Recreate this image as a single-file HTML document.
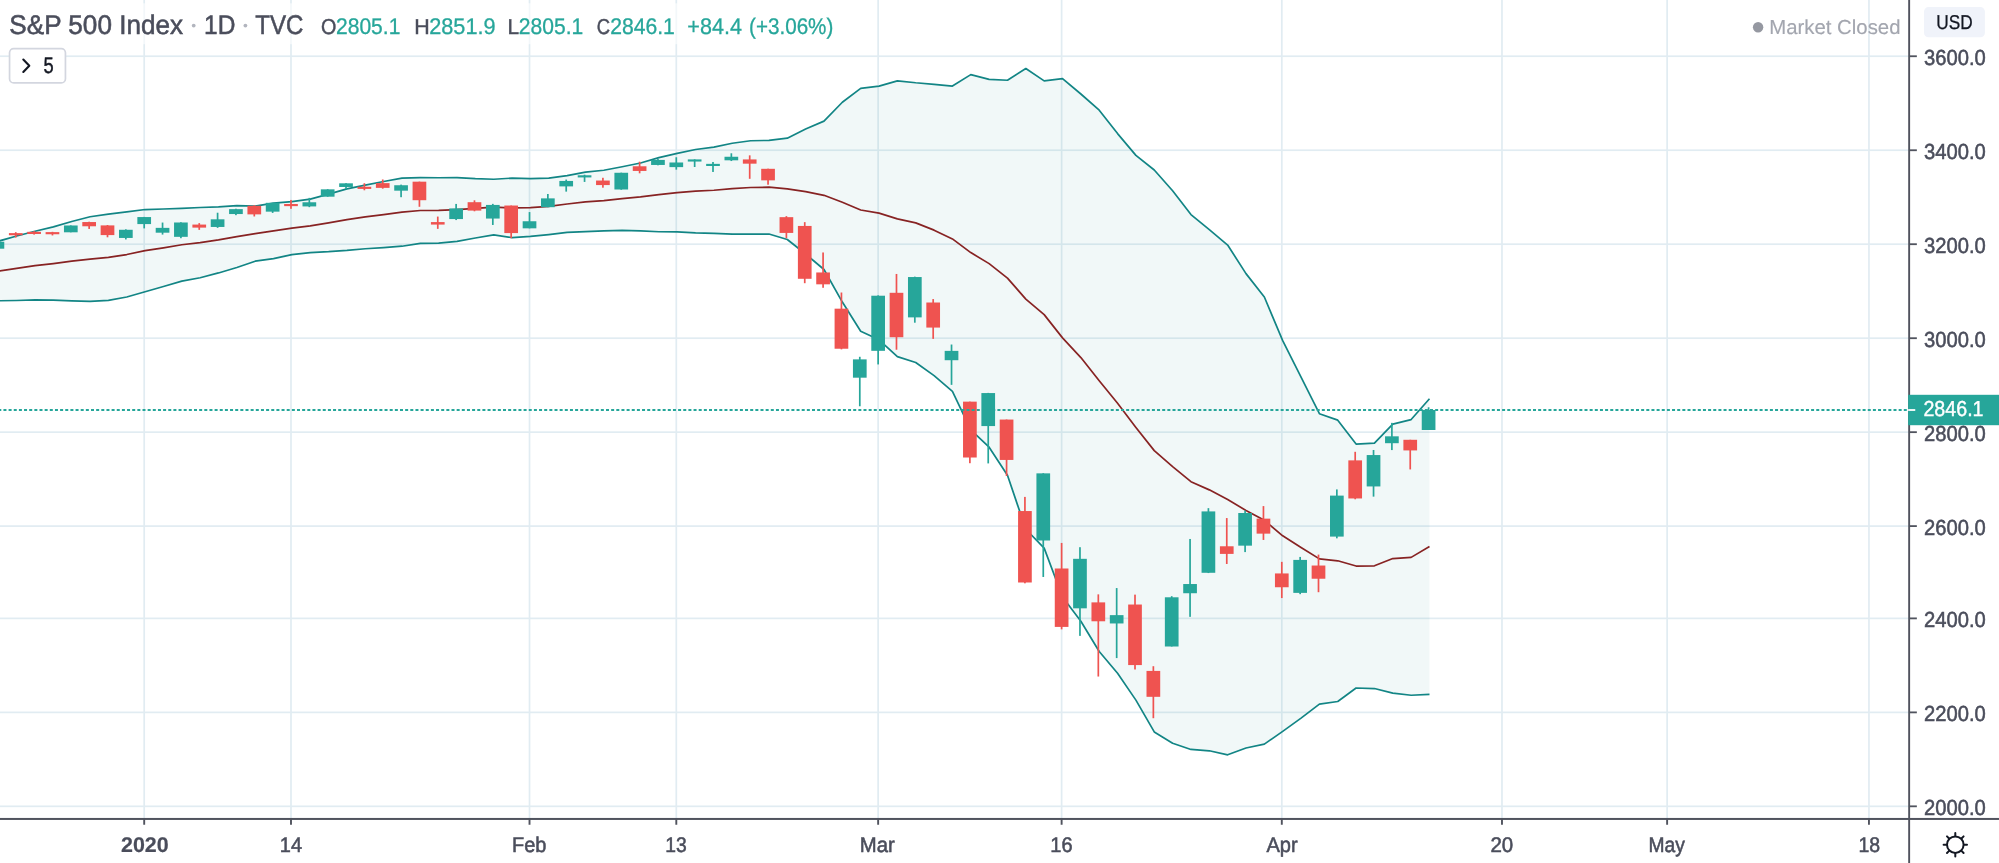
<!DOCTYPE html>
<html><head><meta charset="utf-8"><title>S&amp;P 500 Index</title>
<style>
html,body{margin:0;padding:0;background:#fff;}
body{width:1999px;height:863px;overflow:hidden;position:relative;font-family:"Liberation Sans",sans-serif;}
svg{position:absolute;left:0;top:0;display:block;will-change:transform;}
svg text{font-family:"Liberation Sans",sans-serif;paint-order:stroke;text-rendering:geometricPrecision;}
</style></head><body>
<svg width="1999" height="863" viewBox="0 0 1999 863">
<defs><clipPath id="cp"><rect x="0" y="0" width="1909.15" height="818.95"/></clipPath></defs>
<g clip-path="url(#cp)">
<rect x="143.35" y="0" width="1.7" height="818.95" fill="#e1ecf2"/>
<rect x="290.14" y="0" width="1.7" height="818.95" fill="#e1ecf2"/>
<rect x="528.67" y="0" width="1.7" height="818.95" fill="#e1ecf2"/>
<rect x="675.45" y="0" width="1.7" height="818.95" fill="#e1ecf2"/>
<rect x="877.29" y="0" width="1.7" height="818.95" fill="#e1ecf2"/>
<rect x="1060.77" y="0" width="1.7" height="818.95" fill="#e1ecf2"/>
<rect x="1280.95" y="0" width="1.7" height="818.95" fill="#e1ecf2"/>
<rect x="1501.13" y="0" width="1.7" height="818.95" fill="#e1ecf2"/>
<rect x="1666.27" y="0" width="1.7" height="818.95" fill="#e1ecf2"/>
<rect x="1868.10" y="0" width="1.7" height="818.95" fill="#e1ecf2"/>
<rect x="0" y="55.39" width="1909.15" height="1.7" fill="#e1ecf2"/>
<rect x="0" y="149.39" width="1909.15" height="1.7" fill="#e1ecf2"/>
<rect x="0" y="243.35" width="1909.15" height="1.7" fill="#e1ecf2"/>
<rect x="0" y="337.35" width="1909.15" height="1.7" fill="#e1ecf2"/>
<rect x="0" y="431.31" width="1909.15" height="1.7" fill="#e1ecf2"/>
<rect x="0" y="525.25" width="1909.15" height="1.7" fill="#e1ecf2"/>
<rect x="0" y="617.53" width="1909.15" height="1.7" fill="#e1ecf2"/>
<rect x="0" y="711.53" width="1909.15" height="1.7" fill="#e1ecf2"/>
<rect x="0" y="805.47" width="1909.15" height="1.7" fill="#e1ecf2"/>
<polygon points="-1.69,241.23 16.66,236.00 35.01,231.26 53.36,226.92 71.71,221.48 90.05,216.76 108.40,214.11 126.75,211.93 145.10,209.53 163.45,209.01 181.80,208.34 200.15,207.48 218.49,206.80 236.84,205.62 255.19,206.04 273.54,203.05 291.89,201.71 310.24,199.11 328.58,194.10 346.93,188.85 365.28,185.15 383.63,181.54 401.98,178.17 420.33,177.66 438.67,177.73 457.02,177.70 475.37,178.68 493.72,179.25 512.07,178.11 530.42,178.58 548.76,178.11 567.11,175.66 585.46,172.11 603.81,170.25 622.16,166.75 640.51,163.03 658.86,157.60 677.20,153.43 695.55,149.50 713.90,147.09 732.25,143.26 750.60,140.76 768.95,140.37 787.29,138.18 805.64,129.09 823.99,121.10 842.34,102.25 860.69,88.43 879.04,86.16 897.38,80.82 915.73,82.76 934.08,84.28 952.43,86.05 970.78,74.65 989.13,79.37 1007.47,80.24 1025.82,68.52 1044.17,80.85 1062.52,78.65 1080.87,93.99 1099.22,110.18 1117.57,133.60 1135.91,155.33 1154.26,170.00 1172.61,190.70 1190.96,214.58 1209.31,229.65 1227.66,245.03 1246.00,273.61 1264.35,297.03 1282.70,340.67 1301.05,377.13 1319.40,413.72 1337.75,420.16 1356.09,444.05 1374.44,443.13 1392.79,424.07 1411.14,419.56 1429.49,398.81 1429.49,694.47 1411.14,695.25 1392.79,693.10 1374.44,688.53 1356.09,688.02 1337.75,701.49 1319.40,704.06 1301.05,718.07 1282.70,731.33 1264.35,744.15 1246.00,747.99 1227.66,754.80 1209.31,750.79 1190.96,749.47 1172.61,743.23 1154.26,731.93 1135.91,700.14 1117.57,673.32 1099.22,651.45 1080.87,621.20 1062.52,597.01 1044.17,548.08 1025.82,529.26 1007.47,475.30 989.13,447.19 970.78,429.84 952.43,391.29 934.08,375.58 915.73,362.55 897.38,356.64 879.04,339.84 860.69,331.24 842.34,302.07 823.99,269.50 805.64,254.01 787.29,239.49 768.95,234.03 750.60,234.21 732.25,234.13 713.90,233.37 695.55,232.88 677.20,231.92 658.86,231.73 640.51,230.83 622.16,230.38 603.81,230.96 585.46,231.59 567.11,232.39 548.76,234.53 530.42,236.47 512.07,237.60 493.72,234.94 475.37,237.99 457.02,241.43 438.67,243.10 420.33,243.35 401.98,246.22 383.63,247.63 365.28,248.74 346.93,250.47 328.58,251.72 310.24,252.55 291.89,254.55 273.54,258.59 255.19,261.21 236.84,267.45 218.49,272.94 200.15,277.74 181.80,281.15 163.45,286.52 145.10,291.71 126.75,297.03 108.40,300.33 90.05,301.45 71.71,300.80 53.36,300.03 35.01,299.91 16.66,300.51 -1.69,300.80" fill="#008080" fill-opacity="0.056"/>
<polyline points="-1.69,271.08 16.66,268.32 35.01,265.65 53.36,263.54 71.71,261.20 90.05,259.17 108.40,257.29 126.75,254.54 145.10,250.67 163.45,247.80 181.80,244.77 200.15,242.63 218.49,239.88 236.84,236.54 255.19,233.63 273.54,230.82 291.89,228.13 310.24,225.83 328.58,222.91 346.93,219.66 365.28,216.94 383.63,214.58 401.98,212.20 420.33,210.50 438.67,210.42 457.02,209.56 475.37,208.34 493.72,207.10 512.07,207.86 530.42,207.53 548.76,206.32 567.11,204.03 585.46,201.85 603.81,200.60 622.16,198.57 640.51,196.93 658.86,194.67 677.20,192.68 695.55,191.19 713.90,190.23 732.25,188.70 750.60,187.49 768.95,187.20 787.29,188.83 805.64,191.55 823.99,195.30 842.34,202.23 860.69,209.97 879.04,213.15 897.38,218.92 915.73,222.85 934.08,230.16 952.43,238.93 970.78,252.59 989.13,263.63 1007.47,278.08 1025.82,299.11 1044.17,314.62 1062.52,337.88 1080.87,357.56 1099.22,380.68 1117.57,403.24 1135.91,427.40 1154.26,450.61 1172.61,466.61 1190.96,481.67 1209.31,489.87 1227.66,499.57 1246.00,510.46 1264.35,520.30 1282.70,535.80 1301.05,547.48 1319.40,558.85 1337.75,560.80 1356.09,566.03 1374.44,565.83 1392.79,558.57 1411.14,557.38 1429.49,546.57" fill="none" stroke="#872323" stroke-width="1.7" stroke-linejoin="round"/>
<polyline points="-1.69,241.23 16.66,236.00 35.01,231.26 53.36,226.92 71.71,221.48 90.05,216.76 108.40,214.11 126.75,211.93 145.10,209.53 163.45,209.01 181.80,208.34 200.15,207.48 218.49,206.80 236.84,205.62 255.19,206.04 273.54,203.05 291.89,201.71 310.24,199.11 328.58,194.10 346.93,188.85 365.28,185.15 383.63,181.54 401.98,178.17 420.33,177.66 438.67,177.73 457.02,177.70 475.37,178.68 493.72,179.25 512.07,178.11 530.42,178.58 548.76,178.11 567.11,175.66 585.46,172.11 603.81,170.25 622.16,166.75 640.51,163.03 658.86,157.60 677.20,153.43 695.55,149.50 713.90,147.09 732.25,143.26 750.60,140.76 768.95,140.37 787.29,138.18 805.64,129.09 823.99,121.10 842.34,102.25 860.69,88.43 879.04,86.16 897.38,80.82 915.73,82.76 934.08,84.28 952.43,86.05 970.78,74.65 989.13,79.37 1007.47,80.24 1025.82,68.52 1044.17,80.85 1062.52,78.65 1080.87,93.99 1099.22,110.18 1117.57,133.60 1135.91,155.33 1154.26,170.00 1172.61,190.70 1190.96,214.58 1209.31,229.65 1227.66,245.03 1246.00,273.61 1264.35,297.03 1282.70,340.67 1301.05,377.13 1319.40,413.72 1337.75,420.16 1356.09,444.05 1374.44,443.13 1392.79,424.07 1411.14,419.56 1429.49,398.81" fill="none" stroke="#128585" stroke-width="1.7" stroke-linejoin="round"/>
<polyline points="-1.69,300.80 16.66,300.51 35.01,299.91 53.36,300.03 71.71,300.80 90.05,301.45 108.40,300.33 126.75,297.03 145.10,291.71 163.45,286.52 181.80,281.15 200.15,277.74 218.49,272.94 236.84,267.45 255.19,261.21 273.54,258.59 291.89,254.55 310.24,252.55 328.58,251.72 346.93,250.47 365.28,248.74 383.63,247.63 401.98,246.22 420.33,243.35 438.67,243.10 457.02,241.43 475.37,237.99 493.72,234.94 512.07,237.60 530.42,236.47 548.76,234.53 567.11,232.39 585.46,231.59 603.81,230.96 622.16,230.38 640.51,230.83 658.86,231.73 677.20,231.92 695.55,232.88 713.90,233.37 732.25,234.13 750.60,234.21 768.95,234.03 787.29,239.49 805.64,254.01 823.99,269.50 842.34,302.07 860.69,331.24 879.04,339.84 897.38,356.64 915.73,362.55 934.08,375.58 952.43,391.29 970.78,429.84 989.13,447.19 1007.47,475.30 1025.82,529.26 1044.17,548.08 1062.52,597.01 1080.87,621.20 1099.22,651.45 1117.57,673.32 1135.91,700.14 1154.26,731.93 1172.61,743.23 1190.96,749.47 1209.31,750.79 1227.66,754.80 1246.00,747.99 1264.35,744.15 1282.70,731.33 1301.05,718.07 1319.40,704.06 1337.75,701.49 1356.09,688.02 1374.44,688.53 1392.79,693.10 1411.14,695.25 1429.49,694.47" fill="none" stroke="#128585" stroke-width="1.7" stroke-linejoin="round"/>
<rect x="-3.44" y="241.66" width="1.7" height="7.04" fill="#26a69a"/>
<rect x="-9.44" y="241.72" width="13.7" height="6.98" fill="#26a69a"/>
<rect x="14.91" y="232.18" width="1.7" height="5.37" fill="#ef5350"/>
<rect x="8.91" y="233.12" width="13.7" height="2.15" fill="#ef5350"/>
<rect x="33.26" y="231.18" width="1.7" height="3.43" fill="#ef5350"/>
<rect x="27.26" y="231.83" width="13.7" height="2.15" fill="#ef5350"/>
<rect x="51.61" y="231.82" width="1.7" height="3.63" fill="#ef5350"/>
<rect x="45.61" y="232.11" width="13.7" height="2.15" fill="#ef5350"/>
<rect x="69.96" y="225.40" width="1.7" height="6.90" fill="#26a69a"/>
<rect x="63.96" y="225.48" width="13.7" height="6.82" fill="#26a69a"/>
<rect x="88.30" y="221.71" width="1.7" height="7.22" fill="#ef5350"/>
<rect x="82.30" y="222.04" width="13.7" height="4.24" fill="#ef5350"/>
<rect x="106.65" y="225.01" width="1.7" height="12.29" fill="#ef5350"/>
<rect x="100.65" y="225.40" width="13.7" height="9.69" fill="#ef5350"/>
<rect x="125.00" y="229.33" width="1.7" height="10.10" fill="#26a69a"/>
<rect x="119.00" y="229.77" width="13.7" height="8.18" fill="#26a69a"/>
<rect x="143.35" y="216.91" width="1.7" height="11.48" fill="#26a69a"/>
<rect x="137.35" y="217.05" width="13.7" height="7.04" fill="#26a69a"/>
<rect x="161.70" y="222.55" width="1.7" height="12.04" fill="#26a69a"/>
<rect x="155.70" y="227.86" width="13.7" height="4.84" fill="#26a69a"/>
<rect x="180.05" y="222.23" width="1.7" height="15.98" fill="#26a69a"/>
<rect x="174.05" y="222.49" width="13.7" height="14.35" fill="#26a69a"/>
<rect x="198.40" y="223.13" width="1.7" height="6.72" fill="#ef5350"/>
<rect x="192.40" y="224.57" width="13.7" height="3.05" fill="#ef5350"/>
<rect x="216.74" y="212.72" width="1.7" height="15.14" fill="#26a69a"/>
<rect x="210.74" y="219.31" width="13.7" height="7.65" fill="#26a69a"/>
<rect x="235.09" y="208.72" width="1.7" height="6.45" fill="#26a69a"/>
<rect x="229.09" y="209.13" width="13.7" height="4.92" fill="#26a69a"/>
<rect x="253.44" y="205.23" width="1.7" height="11.25" fill="#ef5350"/>
<rect x="247.44" y="205.79" width="13.7" height="8.59" fill="#ef5350"/>
<rect x="271.79" y="202.82" width="1.7" height="10.11" fill="#26a69a"/>
<rect x="265.79" y="202.82" width="13.7" height="8.84" fill="#26a69a"/>
<rect x="290.14" y="199.94" width="1.7" height="8.87" fill="#ef5350"/>
<rect x="284.14" y="203.99" width="13.7" height="2.15" fill="#ef5350"/>
<rect x="308.49" y="197.87" width="1.7" height="9.30" fill="#26a69a"/>
<rect x="302.49" y="202.27" width="13.7" height="4.15" fill="#26a69a"/>
<rect x="326.83" y="189.20" width="1.7" height="7.57" fill="#26a69a"/>
<rect x="320.83" y="189.34" width="13.7" height="7.35" fill="#26a69a"/>
<rect x="345.18" y="183.20" width="1.7" height="6.03" fill="#26a69a"/>
<rect x="339.18" y="183.32" width="13.7" height="3.65" fill="#26a69a"/>
<rect x="363.53" y="183.24" width="1.7" height="7.04" fill="#ef5350"/>
<rect x="357.53" y="186.76" width="13.7" height="2.15" fill="#ef5350"/>
<rect x="381.88" y="179.49" width="1.7" height="9.18" fill="#ef5350"/>
<rect x="375.88" y="183.13" width="13.7" height="4.74" fill="#ef5350"/>
<rect x="400.23" y="184.61" width="1.7" height="12.60" fill="#26a69a"/>
<rect x="394.23" y="185.24" width="13.7" height="5.44" fill="#26a69a"/>
<rect x="418.58" y="181.65" width="1.7" height="25.13" fill="#ef5350"/>
<rect x="412.58" y="181.68" width="13.7" height="18.54" fill="#ef5350"/>
<rect x="436.92" y="216.58" width="1.7" height="12.29" fill="#ef5350"/>
<rect x="430.92" y="222.07" width="13.7" height="2.51" fill="#ef5350"/>
<rect x="455.27" y="203.92" width="1.7" height="16.15" fill="#26a69a"/>
<rect x="449.27" y="208.41" width="13.7" height="10.67" fill="#26a69a"/>
<rect x="473.62" y="200.31" width="1.7" height="10.99" fill="#ef5350"/>
<rect x="467.62" y="202.19" width="13.7" height="8.40" fill="#ef5350"/>
<rect x="491.97" y="203.86" width="1.7" height="21.11" fill="#26a69a"/>
<rect x="485.97" y="204.92" width="13.7" height="13.64" fill="#26a69a"/>
<rect x="510.32" y="205.54" width="1.7" height="32.65" fill="#ef5350"/>
<rect x="504.32" y="205.54" width="13.7" height="27.55" fill="#ef5350"/>
<rect x="528.67" y="212.07" width="1.7" height="16.26" fill="#26a69a"/>
<rect x="522.67" y="221.25" width="13.7" height="7.08" fill="#26a69a"/>
<rect x="547.01" y="193.99" width="1.7" height="13.22" fill="#26a69a"/>
<rect x="541.01" y="198.37" width="13.7" height="8.83" fill="#26a69a"/>
<rect x="565.36" y="179.58" width="1.7" height="12.05" fill="#26a69a"/>
<rect x="559.36" y="180.94" width="13.7" height="5.45" fill="#26a69a"/>
<rect x="583.71" y="174.70" width="1.7" height="7.23" fill="#26a69a"/>
<rect x="577.71" y="175.28" width="13.7" height="2.15" fill="#26a69a"/>
<rect x="602.06" y="177.77" width="1.7" height="9.92" fill="#ef5350"/>
<rect x="596.06" y="180.54" width="13.7" height="4.53" fill="#ef5350"/>
<rect x="620.41" y="172.68" width="1.7" height="17.06" fill="#26a69a"/>
<rect x="614.41" y="172.76" width="13.7" height="16.74" fill="#26a69a"/>
<rect x="638.76" y="161.69" width="1.7" height="11.62" fill="#ef5350"/>
<rect x="632.76" y="166.28" width="13.7" height="4.67" fill="#ef5350"/>
<rect x="657.11" y="158.95" width="1.7" height="6.37" fill="#26a69a"/>
<rect x="651.11" y="159.90" width="13.7" height="5.06" fill="#26a69a"/>
<rect x="675.45" y="157.25" width="1.7" height="12.40" fill="#26a69a"/>
<rect x="669.45" y="162.49" width="13.7" height="4.63" fill="#26a69a"/>
<rect x="693.80" y="159.32" width="1.7" height="7.68" fill="#26a69a"/>
<rect x="687.80" y="159.40" width="13.7" height="2.15" fill="#26a69a"/>
<rect x="712.15" y="161.99" width="1.7" height="9.97" fill="#26a69a"/>
<rect x="706.15" y="163.85" width="13.7" height="2.15" fill="#26a69a"/>
<rect x="730.50" y="153.29" width="1.7" height="7.75" fill="#26a69a"/>
<rect x="724.50" y="156.75" width="13.7" height="3.56" fill="#26a69a"/>
<rect x="748.85" y="155.34" width="1.7" height="23.47" fill="#ef5350"/>
<rect x="742.85" y="159.43" width="13.7" height="4.24" fill="#ef5350"/>
<rect x="767.20" y="168.68" width="1.7" height="16.04" fill="#ef5350"/>
<rect x="761.20" y="168.81" width="13.7" height="11.54" fill="#ef5350"/>
<rect x="785.54" y="216.13" width="1.7" height="22.08" fill="#ef5350"/>
<rect x="779.54" y="217.16" width="13.7" height="15.76" fill="#ef5350"/>
<rect x="803.89" y="222.15" width="1.7" height="61.05" fill="#ef5350"/>
<rect x="797.89" y="225.94" width="13.7" height="52.85" fill="#ef5350"/>
<rect x="822.24" y="252.46" width="1.7" height="35.32" fill="#ef5350"/>
<rect x="816.24" y="272.47" width="13.7" height="11.85" fill="#ef5350"/>
<rect x="840.59" y="292.51" width="1.7" height="56.86" fill="#ef5350"/>
<rect x="834.59" y="308.67" width="13.7" height="40.06" fill="#ef5350"/>
<rect x="858.94" y="356.79" width="1.7" height="49.47" fill="#26a69a"/>
<rect x="852.94" y="359.37" width="13.7" height="18.32" fill="#26a69a"/>
<rect x="877.29" y="295.37" width="1.7" height="69.07" fill="#26a69a"/>
<rect x="871.29" y="295.71" width="13.7" height="55.11" fill="#26a69a"/>
<rect x="895.63" y="273.96" width="1.7" height="75.77" fill="#ef5350"/>
<rect x="889.63" y="292.80" width="13.7" height="44.42" fill="#ef5350"/>
<rect x="913.98" y="276.65" width="1.7" height="46.05" fill="#26a69a"/>
<rect x="907.98" y="277.04" width="13.7" height="40.34" fill="#26a69a"/>
<rect x="932.33" y="299.08" width="1.7" height="39.79" fill="#ef5350"/>
<rect x="926.33" y="302.51" width="13.7" height="25.07" fill="#ef5350"/>
<rect x="950.68" y="344.52" width="1.7" height="40.34" fill="#26a69a"/>
<rect x="944.68" y="350.87" width="13.7" height="9.35" fill="#26a69a"/>
<rect x="969.03" y="401.64" width="1.7" height="61.57" fill="#ef5350"/>
<rect x="963.03" y="401.64" width="13.7" height="55.87" fill="#ef5350"/>
<rect x="987.38" y="392.89" width="1.7" height="70.52" fill="#26a69a"/>
<rect x="981.38" y="393.06" width="13.7" height="33.02" fill="#26a69a"/>
<rect x="1005.72" y="419.56" width="1.7" height="56.44" fill="#ef5350"/>
<rect x="999.72" y="419.56" width="13.7" height="40.38" fill="#ef5350"/>
<rect x="1024.07" y="496.89" width="1.7" height="86.43" fill="#ef5350"/>
<rect x="1018.07" y="511.04" width="13.7" height="71.45" fill="#ef5350"/>
<rect x="1042.42" y="473.21" width="1.7" height="103.76" fill="#26a69a"/>
<rect x="1036.42" y="473.36" width="13.7" height="67.13" fill="#26a69a"/>
<rect x="1060.77" y="542.94" width="1.7" height="86.41" fill="#ef5350"/>
<rect x="1054.77" y="568.50" width="13.7" height="58.41" fill="#ef5350"/>
<rect x="1079.12" y="547.19" width="1.7" height="88.69" fill="#26a69a"/>
<rect x="1073.12" y="558.82" width="13.7" height="49.51" fill="#26a69a"/>
<rect x="1097.47" y="594.36" width="1.7" height="82.18" fill="#ef5350"/>
<rect x="1091.47" y="602.38" width="13.7" height="18.90" fill="#ef5350"/>
<rect x="1115.82" y="588.06" width="1.7" height="70.03" fill="#26a69a"/>
<rect x="1109.82" y="615.13" width="13.7" height="8.33" fill="#26a69a"/>
<rect x="1134.16" y="594.63" width="1.7" height="74.85" fill="#ef5350"/>
<rect x="1128.16" y="604.53" width="13.7" height="60.55" fill="#ef5350"/>
<rect x="1152.51" y="666.20" width="1.7" height="52.02" fill="#ef5350"/>
<rect x="1146.51" y="670.91" width="13.7" height="25.91" fill="#ef5350"/>
<rect x="1170.86" y="596.18" width="1.7" height="50.33" fill="#26a69a"/>
<rect x="1164.86" y="597.29" width="13.7" height="49.21" fill="#26a69a"/>
<rect x="1189.21" y="538.97" width="1.7" height="77.88" fill="#26a69a"/>
<rect x="1183.21" y="584.03" width="13.7" height="9.21" fill="#26a69a"/>
<rect x="1207.56" y="508.15" width="1.7" height="64.91" fill="#26a69a"/>
<rect x="1201.56" y="511.41" width="13.7" height="61.38" fill="#26a69a"/>
<rect x="1225.91" y="518.06" width="1.7" height="45.92" fill="#ef5350"/>
<rect x="1219.91" y="546.28" width="13.7" height="7.62" fill="#ef5350"/>
<rect x="1244.25" y="510.59" width="1.7" height="41.51" fill="#26a69a"/>
<rect x="1238.25" y="513.01" width="13.7" height="32.65" fill="#26a69a"/>
<rect x="1262.60" y="506.09" width="1.7" height="33.86" fill="#ef5350"/>
<rect x="1256.60" y="518.64" width="13.7" height="15.00" fill="#ef5350"/>
<rect x="1280.95" y="561.85" width="1.7" height="36.22" fill="#ef5350"/>
<rect x="1274.95" y="573.44" width="13.7" height="13.81" fill="#ef5350"/>
<rect x="1299.30" y="556.93" width="1.7" height="37.24" fill="#26a69a"/>
<rect x="1293.30" y="559.90" width="13.7" height="32.98" fill="#26a69a"/>
<rect x="1317.65" y="554.60" width="1.7" height="37.61" fill="#ef5350"/>
<rect x="1311.65" y="565.53" width="13.7" height="13.20" fill="#ef5350"/>
<rect x="1336.00" y="489.42" width="1.7" height="48.92" fill="#26a69a"/>
<rect x="1330.00" y="495.61" width="13.7" height="40.99" fill="#26a69a"/>
<rect x="1354.34" y="451.80" width="1.7" height="47.48" fill="#ef5350"/>
<rect x="1348.34" y="460.37" width="13.7" height="38.09" fill="#ef5350"/>
<rect x="1372.69" y="449.99" width="1.7" height="46.65" fill="#26a69a"/>
<rect x="1366.69" y="455.05" width="13.7" height="31.39" fill="#26a69a"/>
<rect x="1391.04" y="422.85" width="1.7" height="27.23" fill="#26a69a"/>
<rect x="1385.04" y="436.32" width="13.7" height="6.88" fill="#26a69a"/>
<rect x="1409.39" y="439.78" width="1.7" height="29.66" fill="#ef5350"/>
<rect x="1403.39" y="439.78" width="13.7" height="10.64" fill="#ef5350"/>
<rect x="1427.74" y="407.27" width="1.7" height="22.73" fill="#26a69a"/>
<rect x="1421.74" y="409.98" width="13.7" height="20.02" fill="#26a69a"/>
<line x1="-1.7" y1="410.00" x2="1909.15" y2="410.00" stroke="#26a69a" stroke-width="1.8" stroke-dasharray="3.0 2.15"/>
</g>
<g>
<rect x="1908.20" y="0" width="1.9" height="863" fill="#50535e"/>
<rect x="0" y="817.95" width="1999" height="2.0" fill="#50535e"/>
<rect x="1909.15" y="55.34" width="7.7" height="1.8" fill="#50535e"/>
<text x="1924.09" y="64.64" font-size="21.7" fill="#4a4d5b" stroke="#4a4d5b" textLength="61.69" lengthAdjust="spacingAndGlyphs" stroke-width="0.55">3600.0</text>
<rect x="1909.15" y="149.34" width="7.7" height="1.8" fill="#50535e"/>
<text x="1924.09" y="158.64" font-size="21.7" fill="#4a4d5b" stroke="#4a4d5b" textLength="61.69" lengthAdjust="spacingAndGlyphs" stroke-width="0.55">3400.0</text>
<rect x="1909.15" y="243.30" width="7.7" height="1.8" fill="#50535e"/>
<text x="1924.09" y="252.60" font-size="21.7" fill="#4a4d5b" stroke="#4a4d5b" textLength="61.69" lengthAdjust="spacingAndGlyphs" stroke-width="0.55">3200.0</text>
<rect x="1909.15" y="337.30" width="7.7" height="1.8" fill="#50535e"/>
<text x="1924.09" y="346.60" font-size="21.7" fill="#4a4d5b" stroke="#4a4d5b" textLength="61.69" lengthAdjust="spacingAndGlyphs" stroke-width="0.55">3000.0</text>
<rect x="1909.15" y="431.26" width="7.7" height="1.8" fill="#50535e"/>
<text x="1924.09" y="440.56" font-size="21.7" fill="#4a4d5b" stroke="#4a4d5b" textLength="61.69" lengthAdjust="spacingAndGlyphs" stroke-width="0.55">2800.0</text>
<rect x="1909.15" y="525.20" width="7.7" height="1.8" fill="#50535e"/>
<text x="1924.09" y="534.50" font-size="21.7" fill="#4a4d5b" stroke="#4a4d5b" textLength="61.69" lengthAdjust="spacingAndGlyphs" stroke-width="0.55">2600.0</text>
<rect x="1909.15" y="617.48" width="7.7" height="1.8" fill="#50535e"/>
<text x="1924.09" y="626.78" font-size="21.7" fill="#4a4d5b" stroke="#4a4d5b" textLength="61.69" lengthAdjust="spacingAndGlyphs" stroke-width="0.55">2400.0</text>
<rect x="1909.15" y="711.48" width="7.7" height="1.8" fill="#50535e"/>
<text x="1924.09" y="720.78" font-size="21.7" fill="#4a4d5b" stroke="#4a4d5b" textLength="61.69" lengthAdjust="spacingAndGlyphs" stroke-width="0.55">2200.0</text>
<rect x="1909.15" y="805.42" width="7.7" height="1.8" fill="#50535e"/>
<text x="1924.09" y="814.72" font-size="21.7" fill="#4a4d5b" stroke="#4a4d5b" textLength="61.69" lengthAdjust="spacingAndGlyphs" stroke-width="0.55">2000.0</text>
<rect x="143.25" y="818.95" width="1.9" height="5.8" fill="#50535e"/>
<text x="121.05" y="852.3" font-size="21.2" fill="#4a4d5b" stroke="#4a4d5b" textLength="47.65" lengthAdjust="spacingAndGlyphs" font-weight="bold" stroke-width="0.2">2020</text>
<rect x="290.04" y="818.95" width="1.9" height="5.8" fill="#50535e"/>
<text x="279.85" y="852.3" font-size="21.2" fill="#4a4d5b" stroke="#4a4d5b" textLength="22.19" lengthAdjust="spacingAndGlyphs" stroke-width="0.55">14</text>
<rect x="528.57" y="818.95" width="1.9" height="5.8" fill="#50535e"/>
<text x="512.0" y="852.3" font-size="21.2" fill="#4a4d5b" stroke="#4a4d5b" textLength="34.36" lengthAdjust="spacingAndGlyphs" stroke-width="0.55">Feb</text>
<rect x="675.35" y="818.95" width="1.9" height="5.8" fill="#50535e"/>
<text x="665.35" y="852.3" font-size="21.2" fill="#4a4d5b" stroke="#4a4d5b" textLength="21.46" lengthAdjust="spacingAndGlyphs" stroke-width="0.55">13</text>
<rect x="877.19" y="818.95" width="1.9" height="5.8" fill="#50535e"/>
<text x="859.72" y="852.3" font-size="21.2" fill="#4a4d5b" stroke="#4a4d5b" textLength="35.0" lengthAdjust="spacingAndGlyphs" stroke-width="0.55">Mar</text>
<rect x="1060.67" y="818.95" width="1.9" height="5.8" fill="#50535e"/>
<text x="1050.25" y="852.3" font-size="21.2" fill="#4a4d5b" stroke="#4a4d5b" textLength="22.3" lengthAdjust="spacingAndGlyphs" stroke-width="0.55">16</text>
<rect x="1280.85" y="818.95" width="1.9" height="5.8" fill="#50535e"/>
<text x="1266.4" y="852.3" font-size="21.2" fill="#4a4d5b" stroke="#4a4d5b" textLength="31.23" lengthAdjust="spacingAndGlyphs" stroke-width="0.55">Apr</text>
<rect x="1501.03" y="818.95" width="1.9" height="5.8" fill="#50535e"/>
<text x="1490.48" y="852.3" font-size="21.2" fill="#4a4d5b" stroke="#4a4d5b" textLength="22.79" lengthAdjust="spacingAndGlyphs" stroke-width="0.55">20</text>
<rect x="1666.17" y="818.95" width="1.9" height="5.8" fill="#50535e"/>
<text x="1648.41" y="852.3" font-size="21.2" fill="#4a4d5b" stroke="#4a4d5b" textLength="36.37" lengthAdjust="spacingAndGlyphs" stroke-width="0.55">May</text>
<rect x="1868.00" y="818.95" width="1.9" height="5.8" fill="#50535e"/>
<text x="1858.54" y="852.3" font-size="21.2" fill="#4a4d5b" stroke="#4a4d5b" textLength="21.69" lengthAdjust="spacingAndGlyphs" stroke-width="0.55">18</text>
<rect x="1908.15" y="394.8" width="90.85" height="30.4" fill="#26a69a"/>
<rect x="1908.15" y="409.1" width="7.1" height="1.8" fill="#fff"/>
<text x="1923.42" y="416.1" font-size="21.7" fill="#fff" stroke="#fff" textLength="60.14" lengthAdjust="spacingAndGlyphs" stroke-width="0.4">2846.1</text>
<rect x="6" y="3.3" width="832" height="40.9" fill="#fff" fill-opacity="0.6"/>
<text x="9.33" y="34.2" font-size="27" fill="#4a4d5b" stroke="#4a4d5b" textLength="173.7" lengthAdjust="spacingAndGlyphs" stroke-width="0.55">S&amp;P 500 Index</text>
<circle cx="193.7" cy="25.6" r="1.9" fill="#b2b5be"/>
<text x="204.06" y="34.2" font-size="27" fill="#4a4d5b" stroke="#4a4d5b" textLength="31.32" lengthAdjust="spacingAndGlyphs" stroke-width="0.55">1D</text>
<circle cx="245.4" cy="25.6" r="1.9" fill="#b2b5be"/>
<text x="255.3" y="34.2" font-size="27" fill="#4a4d5b" stroke="#4a4d5b" textLength="48.17" lengthAdjust="spacingAndGlyphs" stroke-width="0.55">TVC</text>
<text x="320.91" y="33.85" font-size="21.6" fill="#4a4d5b" stroke="#4a4d5b" textLength="15.33" lengthAdjust="spacingAndGlyphs" stroke-width="0.45">O</text>
<text x="336.02" y="33.85" font-size="22.6" fill="#26a69a" stroke="#26a69a" textLength="64.36" lengthAdjust="spacingAndGlyphs" stroke-width="0.3">2805.1</text>
<text x="414.19" y="33.85" font-size="21.6" fill="#4a4d5b" stroke="#4a4d5b" textLength="15.48" lengthAdjust="spacingAndGlyphs" stroke-width="0.45">H</text>
<text x="429.21" y="33.85" font-size="22.6" fill="#26a69a" stroke="#26a69a" textLength="66.43" lengthAdjust="spacingAndGlyphs" stroke-width="0.3">2851.9</text>
<text x="507.43" y="33.85" font-size="21.6" fill="#4a4d5b" stroke="#4a4d5b" textLength="11.62" lengthAdjust="spacingAndGlyphs" stroke-width="0.45">L</text>
<text x="518.85" y="33.85" font-size="22.6" fill="#26a69a" stroke="#26a69a" textLength="64.38" lengthAdjust="spacingAndGlyphs" stroke-width="0.3">2805.1</text>
<text x="596.78" y="33.85" font-size="21.6" fill="#4a4d5b" stroke="#4a4d5b" textLength="13.3" lengthAdjust="spacingAndGlyphs" stroke-width="0.45">C</text>
<text x="610.14" y="33.85" font-size="22.6" fill="#26a69a" stroke="#26a69a" textLength="64.69" lengthAdjust="spacingAndGlyphs" stroke-width="0.3">2846.1</text>
<text x="687.32" y="33.85" font-size="22.6" fill="#26a69a" stroke="#26a69a" textLength="54.63" lengthAdjust="spacingAndGlyphs" stroke-width="0.3">+84.4</text>
<text x="749.06" y="33.85" font-size="22.6" fill="#26a69a" stroke="#26a69a" textLength="84.29" lengthAdjust="spacingAndGlyphs" stroke-width="0.3">(+3.06%)</text>
<rect x="9.55" y="48.65" width="55.9" height="34.2" rx="4.2" fill="#fff" stroke="#d3d6df" stroke-width="1.7"/>
<path d="M23.3 59.6 L29.3 65.8 L23.3 72.0" fill="none" stroke="#131722" stroke-width="2.1" stroke-linecap="round" stroke-linejoin="round"/>
<text x="43.47" y="72.6" font-size="22.6" fill="#131722" stroke="#131722" textLength="10.19" lengthAdjust="spacingAndGlyphs" stroke-width="0.45">5</text>
<circle cx="1758.1" cy="27.2" r="5.2" fill="#9598a1"/>
<text x="1769.21" y="33.95" font-size="20.3" fill="#a3a6af" stroke="#a3a6af" textLength="131.25" lengthAdjust="spacingAndGlyphs" stroke-width="0.15">Market Closed</text>
<rect x="1924" y="7.1" width="60.9" height="30.2" rx="4.5" fill="#f0f3fa"/>
<text x="1936.31" y="28.76" font-size="20" fill="#131722" stroke="#131722" textLength="36.39" lengthAdjust="spacingAndGlyphs" stroke-width="0.3">USD</text>
<g fill="none" stroke="#131722" stroke-width="2.0" stroke-linecap="round"><circle cx="1955.3" cy="844.7" r="8.3"/><path d="M1955.3 833.0v3.0M1955.3 853.4v3.0M1943.6 844.7h3.0M1964.0 844.7h3.0M1947.0 836.4l2.1 2.1M1961.5 850.9l2.1 2.1M1963.6 836.4l-2.1 2.1M1949.1 850.9l-2.1 2.1"/></g>
</g>
</svg>
</body></html>
